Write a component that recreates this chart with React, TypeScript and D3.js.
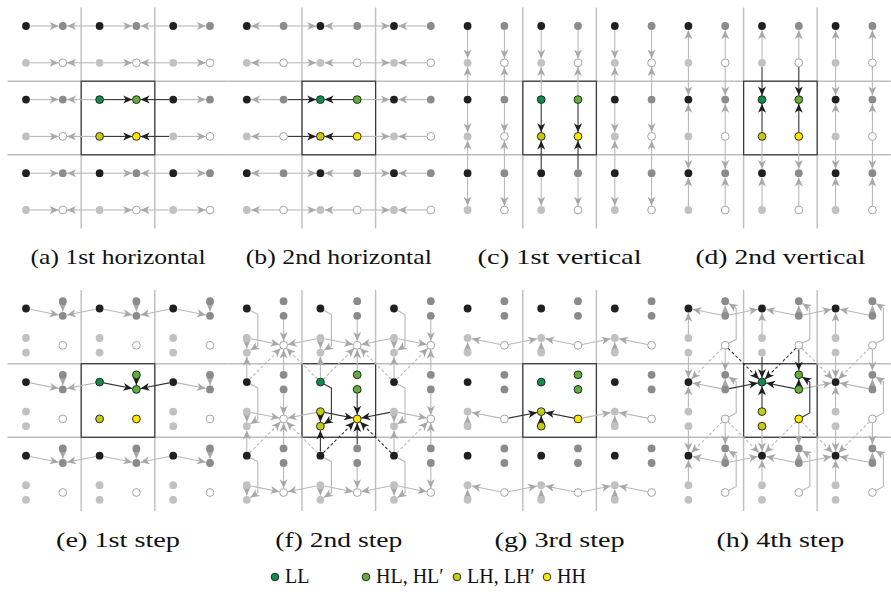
import React from 'react';
import * as d3 from 'd3';

// captions under each panel
const TOP_CAPTIONS = ['(a) 1st horizontal', '(b) 2nd horizontal', '(c) 1st vertical', '(d) 2nd vertical'];
const BOTTOM_CAPTIONS = ['(e) 1st step', '(f) 2nd step', '(g) 3rd step', '(h) 4th step'];
const TOP_WIDTHS = [175, 186, 164, 170];
const BOTTOM_WIDTHS = [124, 127, 130, 128];
const TOP_STEPS = ['h1', 'h2', 'v1', 'v2'];
const BOTTOM_STEPS = ['s1', 's2', 's3', 's4'];

// legend
const LEGEND_KEYS = ['LL', 'HL', 'LH', 'HH'];
const LEGEND_LABELS = ['LL', 'HL, HL\u2032', 'LH, LH\u2032', 'HH'];
const LEGEND_X = [275, 366, 457, 547];

// node colours (outside / inside the highlighted block)
const OUTER_FILL = { LL: '#202020', HL: '#8b8b8b', LH: '#c1c1c1', HH: '#ffffff' };
const BOX_FILL = { LL: '#0f8c47', HL: '#63ad3c', LH: '#c3cb18', HH: '#ffe600' };

const N = 6; // nodes per panel side
const S = 36.8; // node spacing
const SPLIT = 7.3; // offset of split nodes (HL/HL', LH/LH')
const R = 3.9;

type Ref = [number, number, string];
type Arrow = { from: Ref; to: Ref; elbow?: boolean; dashed?: boolean };

const typeOf = (r: number, c: number) =>
  r % 2 === 0 ? (c % 2 === 0 ? 'LL' : 'HL') : (c % 2 === 0 ? 'LH' : 'HH');
const ok = (r: number, c: number) => r >= 0 && r < N && c >= 0 && c < N;
const inBox = (r: number, c: number) => (r === 2 || r === 3) && (c === 2 || c === 3);

function arrowsFor(step: string): Arrow[] {
  const out: Arrow[] = [];
  const add = (from: Ref, to: Ref, extra: Partial<Arrow> = {}) => {
    if (ok(from[0], from[1]) && ok(to[0], to[1])) out.push({ from, to, ...extra });
  };
  for (let r = 0; r < N; r++) {
    for (let c = 0; c < N; c++) {
      const t = typeOf(r, c);
      if (step === 'h1' && c % 2 === 1) {
        add([r, c - 1, ''], [r, c, '']);
        add([r, c + 1, ''], [r, c, '']);
      }
      if (step === 'h2' && c % 2 === 0) {
        add([r, c - 1, ''], [r, c, '']);
        add([r, c + 1, ''], [r, c, '']);
      }
      if (step === 'v1' && r % 2 === 1) {
        add([r - 1, c, ''], [r, c, '']);
        add([r + 1, c, ''], [r, c, '']);
      }
      if (step === 'v2' && r % 2 === 0) {
        add([r - 1, c, ''], [r, c, '']);
        add([r + 1, c, ''], [r, c, '']);
      }
      if (step === 's1' && t === 'HL') {
        add([r, c - 1, ''], [r, c, 'l']);
        add([r, c + 1, ''], [r, c, 'l']);
        add([r, c, 'u'], [r, c, 'l']);
      }
      if (step === 's2' && t === 'LH') {
        add([r, c, 'u'], [r, c, 'l']);
        add([r - 1, c, ''], [r, c, 'l'], { elbow: true });
        add([r + 1, c, ''], [r, c, 'l']);
      }
      if (step === 's2' && t === 'HH') {
        add([r, c - 1, 'u'], [r, c, '']);
        add([r, c + 1, 'u'], [r, c, '']);
        add([r - 1, c, 'l'], [r, c, '']);
        add([r + 1, c, 'u'], [r, c, '']);
        add([r + 1, c - 1, ''], [r, c, ''], { dashed: true });
        add([r + 1, c + 1, ''], [r, c, ''], { dashed: true });
      }
      if (step === 's3' && t === 'LH') {
        add([r, c - 1, ''], [r, c, 'u']);
        add([r, c + 1, ''], [r, c, 'u']);
        add([r, c, 'l'], [r, c, 'u']);
      }
      if (step === 's4' && t === 'LL') {
        add([r, c - 1, 'l'], [r, c, '']);
        add([r, c + 1, 'l'], [r, c, '']);
        add([r - 1, c, 'l'], [r, c, '']);
        add([r + 1, c, 'u'], [r, c, '']);
        add([r - 1, c - 1, ''], [r, c, ''], { dashed: true });
        add([r - 1, c + 1, ''], [r, c, ''], { dashed: true });
      }
      if (step === 's4' && t === 'HL') {
        add([r - 1, c, ''], [r, c, 'u']);
        add([r + 1, c, ''], [r, c, 'u'], { elbow: true });
        add([r, c, 'l'], [r, c, 'u']);
      }
    }
  }
  return out;
}

function subsFor(step: string, r: number, c: number): string[] {
  const t = typeOf(r, c);
  if (TOP_STEPS.includes(step)) return [''];
  if (t === 'LL' || t === 'HH') return [''];
  if (step === 's1' && t === 'LH' && inBox(r, c)) return [''];
  return ['u', 'l'];
}

const lineGen = d3.line<[number, number]>();

function Panel({ step, px, py, caption, capW }: { step: string; px: number; py: number; caption: string; capW: number }) {
  const x = d3.scaleLinear().domain([0, 1]).range([px, px + S]);
  const y = d3.scaleLinear().domain([0, 1]).range([py, py + S]);
  const pos = (ref: Ref): [number, number] => {
    const [r, c, sub] = ref;
    const dy = sub === 'u' ? -SPLIT : sub === 'l' ? SPLIT : 0;
    return [x(c), y(r) + dy];
  };

  const trim = (p: [number, number], q: [number, number], d: number): [number, number] => {
    const dx = q[0] - p[0];
    const dyy = q[1] - p[1];
    const len = Math.hypot(dx, dyy) || 1;
    return [p[0] + (dx / len) * d, p[1] + (dyy / len) * d];
  };

  const arrows = arrowsFor(step).map((a, i) => {
    const s = pos(a.from);
    const t = pos(a.to);
    let pts: [number, number][] = [s, t];
    if (a.elbow) {
      const sg = Math.sign(t[1] - s[1]);
      pts = [s, [s[0] + 11, s[1] + 6 * sg], [s[0] + 11, t[1] - 7 * sg], t];
    }
    // trim ends to the circle edges
    pts[0] = trim(pts[0], pts[1], R + 0.2);
    pts[pts.length - 1] = trim(pts[pts.length - 1], pts[pts.length - 2], R + 0.3);
    const dark = inBox(a.to[0], a.to[1]);
    return { d: lineGen(pts) as string, dark, dashed: !!a.dashed, key: i };
  });

  const nodes: { cx: number; cy: number; fill: string; stroke: string; key: string }[] = [];
  for (let r = 0; r < N; r++) {
    for (let c = 0; c < N; c++) {
      const t = typeOf(r, c);
      const box = inBox(r, c);
      for (const sub of subsFor(step, r, c)) {
        const [cx, cy] = pos([r, c, sub]);
        nodes.push({
          cx,
          cy,
          fill: box ? BOX_FILL[t] : OUTER_FILL[t],
          stroke: box ? '#1a1a1a' : t === 'HH' ? '#9a9a9a' : 'none',
          key: `${r}-${c}-${sub}`,
        });
      }
    }
  }

  const g0 = x(-0.5);
  const g1 = x(N - 0.5);
  const h0 = y(-0.5);
  const h1 = y(N - 0.5);
  const lines = [1.5, 3.5];

  return (
    <g>
      {lines.map((v) => (
        <line key={`v${v}`} x1={x(v)} x2={x(v)} y1={h0} y2={h1} stroke="#bdbdbd" strokeWidth={1.4} />
      ))}
      {lines.map((v) => (
        <line key={`h${v}`} x1={g0} x2={g1} y1={y(v)} y2={y(v)} stroke="#bdbdbd" strokeWidth={1.4} />
      ))}
      <rect x={x(1.5)} y={y(1.5)} width={2 * S} height={2 * S} fill="none" stroke="#3a3a3a" strokeWidth={1.2} />
      {arrows.filter((a) => !a.dark).map((a) => (
        <path key={a.key} d={a.d} fill="none" stroke="#b8b8b8" strokeWidth={1.1}
          strokeDasharray={a.dashed ? '3 2.2' : undefined} markerEnd="url(#ah-light)" />
      ))}
      {arrows.filter((a) => a.dark).map((a) => (
        <path key={a.key} d={a.d} fill="none" stroke="#333" strokeWidth={1.1}
          strokeDasharray={a.dashed ? '3 2.2' : undefined} markerEnd="url(#ah-dark)" />
      ))}
      {nodes.map((n) => (
        <circle key={n.key} cx={n.cx} cy={n.cy} r={R} fill={n.fill} stroke={n.stroke} strokeWidth={0.9} />
      ))}
      <text x={(g0 + g1) / 2} y={h1 + 36} textAnchor="middle" fontFamily="'Liberation Serif', serif" fontSize={21}
        textLength={capW} lengthAdjust="spacingAndGlyphs" fill="#111">
        {caption}
      </text>
    </g>
  );
}

export default function App() {
  const panelW = N * S;
  return (
    <svg width={891} height={595} style={{ position: 'absolute', left: 0, top: 0, background: '#fff' }}>
      <defs>
        <marker id="ah-light" viewBox="-10 -5 11 10" refX={0} refY={0} markerWidth={11} markerHeight={10}
          markerUnits="userSpaceOnUse" orient="auto">
          <path d="M0,0 L-9,-4 L-6.5,0 L-9,4 Z" fill="#a8a8a8" />
        </marker>
        <marker id="ah-dark" viewBox="-10 -5 11 10" refX={0} refY={0} markerWidth={11} markerHeight={10}
          markerUnits="userSpaceOnUse" orient="auto">
          <path d="M0,0 L-9,-4 L-6.5,0 L-9,4 Z" fill="#1e1e1e" />
        </marker>
      </defs>
      {TOP_STEPS.map((st, i) => (
        <Panel key={st} step={st} px={26 + i * panelW} py={26} caption={TOP_CAPTIONS[i]} capW={TOP_WIDTHS[i]} />
      ))}
      {BOTTOM_STEPS.map((st, i) => (
        <Panel key={st} step={st} px={26 + i * panelW} py={308.5} caption={BOTTOM_CAPTIONS[i]} capW={BOTTOM_WIDTHS[i]} />
      ))}
      {LEGEND_KEYS.map((k, i) => (
        <g key={k}>
          <circle cx={LEGEND_X[i]} cy={577} r={3.8} fill={BOX_FILL[k]} stroke="#1a1a1a" strokeWidth={0.9} />
          <text x={LEGEND_X[i] + 10} y={583} fontFamily="'Liberation Serif', serif" fontSize={20} fill="#111">
            {LEGEND_LABELS[i]}
          </text>
        </g>
      ))}
    </svg>
  );
}
